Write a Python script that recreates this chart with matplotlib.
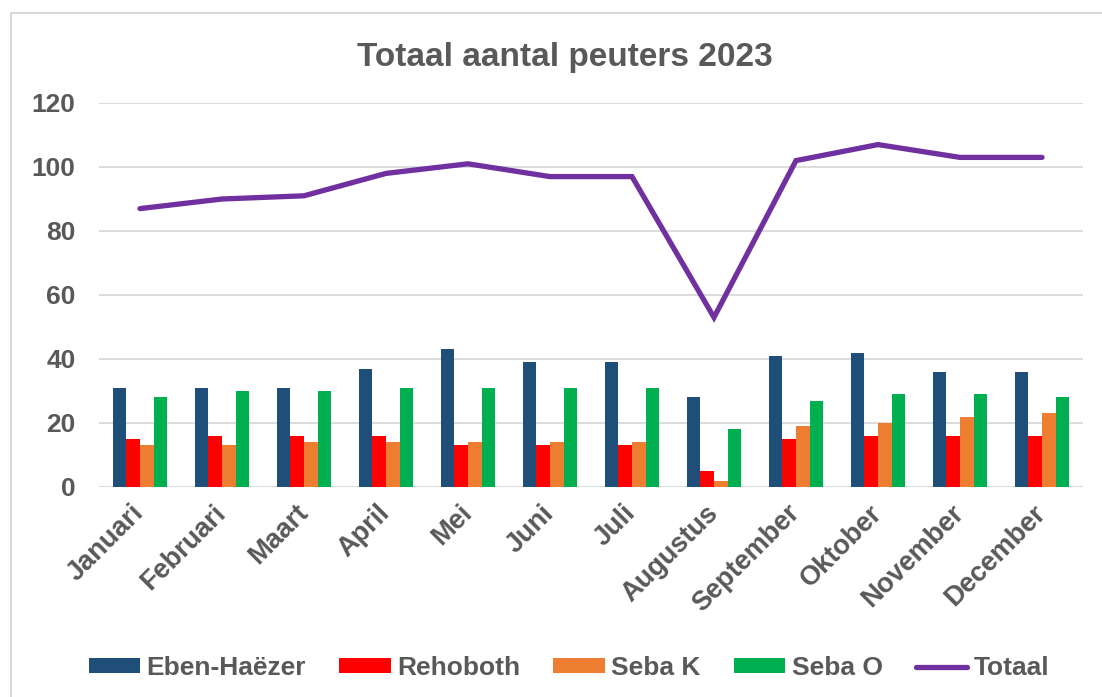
#!/usr/bin/env python3
"""
Totaal aantal peuters 2023: grouped bars per location plus the monthly total line.
"""
import matplotlib
matplotlib.use("Agg")
import matplotlib.pyplot as plt
import numpy as np
from matplotlib.patches import Rectangle

months = ["Januari", "Februari", "Maart", "April", "Mei", "Juni", "Juli",
          "Augustus", "September", "Oktober", "November", "December"]
eben_haezer = [31, 31, 31, 37, 43, 39, 39, 28, 41, 42, 36, 36]
rehoboth = [15, 16, 16, 16, 13, 13, 13, 5, 15, 16, 16, 16]
seba_k = [13, 13, 14, 14, 14, 14, 14, 2, 19, 20, 22, 23]
seba_o = [28, 30, 30, 31, 31, 31, 31, 18, 27, 29, 29, 28]
totaal = [87, 90, 91, 98, 101, 97, 97, 53, 102, 107, 103, 103]

series = [
    ("Eben-Haëzer", eben_haezer, "#1F4E79"),
    ("Rehoboth", rehoboth, "#FF0000"),
    ("Seba K", seba_k, "#ED7D31"),
    ("Seba O", seba_o, "#00B050"),
]

TEXT = "#595959"
GRID = "#D9D9D9"

plt.rcParams["font.family"] = ["Liberation Sans", "DejaVu Sans"]
plt.rcParams["font.weight"] = "bold"

W, H = 1102, 697
fig = plt.figure(figsize=(W / 100, H / 100), dpi=100)
ax = fig.add_axes([99 / W, 1 - 487 / H, (1083 - 99) / W, (487 - 103) / H])

# chart border (Excel style), cut off at right/bottom like the screenshot
fig.patches.append(Rectangle((11 / W, -0.1), 1.2, 1 - 13 / H + 0.1,
                             transform=fig.transFigure, fill=False,
                             edgecolor=GRID, linewidth=1.5))

x = np.arange(len(months))
bw = 0.165
handles = []
for i, (name, vals, col) in enumerate(series):
    b = ax.bar(x + (i - 1.5) * bw, vals, width=bw, color=col, label=name, zorder=2)
    handles.append(b)

line, = ax.plot(x, totaal, color="#7030A0", linewidth=3.8, solid_capstyle="round",
                solid_joinstyle="miter", label="Totaal", zorder=3)
handles.append(line)

ax.set_xlim(-0.5, len(months) - 0.5)
ax.set_ylim(0, 120)
ax.set_yticks(range(0, 121, 20))
ax.yaxis.grid(True, color=GRID, linewidth=1.3, zorder=0)
ax.set_axisbelow(True)
for s in ax.spines.values():
    s.set_visible(False)

ax.tick_params(axis="y", length=0, pad=17, labelsize=19, labelcolor=TEXT)
ax.tick_params(axis="x", length=0, pad=16, labelsize=19.5, labelcolor=TEXT)
ax.set_xticks(x)
ax.set_xticklabels(months, rotation=45, ha="right", va="center",
                   rotation_mode="anchor", fontweight="bold")
for lbl in ax.get_yticklabels():
    lbl.set_fontweight("bold")

fig.text(565 / W, 1 - 66 / H, "Totaal aantal peuters 2023", ha="center",
         va="baseline", fontsize=24, fontweight="bold", color=TEXT)

leg = fig.legend(handles, [h.get_label() for h in handles], loc="center",
                 bbox_to_anchor=(569 / W, 1 - 668 / H),
                 ncol=5, frameon=False, fontsize=19, handlelength=1.95,
                 handleheight=0.5, handletextpad=0.25, columnspacing=1.25,
                 borderaxespad=0)
for t in leg.get_texts():
    t.set_color(TEXT)
    t.set_fontweight("bold")

fig.savefig("out.png", dpi=100)
